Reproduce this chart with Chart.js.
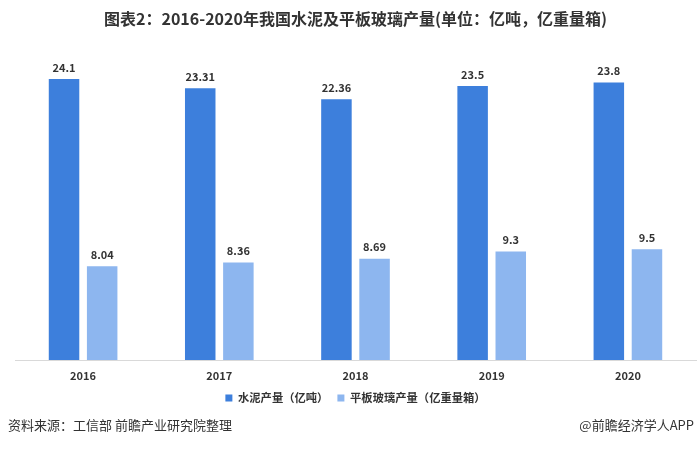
<!DOCTYPE html>
<html>
<head>
<meta charset="utf-8">
<script src="https://cdn.jsdelivr.net/npm/chart.js@4"></script>
<style>
  body { margin: 0; background: #fff; }
  #wrap { width: 700px; height: 450px; position: relative; }
</style>
</head>
<body>
<div id="wrap"><canvas id="chart"></canvas></div>
<script>
const years = ['2016', '2017', '2018', '2019', '2020'];
const cement = [24.1, 23.31, 22.36, 23.5, 23.8];
const glass = [8.04, 8.36, 8.69, 9.3, 9.5];
const seriesNames = ['水泥产量（亿吨）', '平板玻璃产量（亿重量箱）'];

const font = '"Noto Sans CJK SC", "Noto Sans", sans-serif';

// numbers over each bar
const barLabels = {
    id: 'barLabels',
    afterDatasetsDraw(chart) {
        const ctx = chart.ctx;
        ctx.save();
        ctx.font = 'bold 11px ' + font;
        ctx.fillStyle = '#333';
        ctx.textAlign = 'center';
        ctx.textBaseline = 'bottom';
        chart.data.datasets.forEach((ds, i) => {
            chart.getDatasetMeta(i).data.forEach((bar, j) => {
                ctx.fillText(ds.data[j], bar.x, bar.y - 6);
            });
        });
        ctx.restore();
    }
};

// source line and app mark at the bottom
const footer = {
    id: 'footer',
    afterDraw(chart) {
        const ctx = chart.ctx;
        ctx.save();
        ctx.font = '13px ' + font;
        ctx.fillStyle = '#333';
        ctx.textBaseline = 'middle';
        ctx.textAlign = 'left';
        ctx.fillText('资料来源：工信部 前瞻产业研究院整理', 8, 425);
        ctx.textAlign = 'right';
        ctx.fillText('@前瞻经济学人APP', 694, 425);
        ctx.restore();
    }
};

new Chart(document.getElementById('chart'), {
    type: 'bar',
    data: {
        labels: years,
        datasets: [{
            label: seriesNames[0],
            data: cement,
            backgroundColor: '#3D7FDC',
            categoryPercentage: 0.56,
            barPercentage: 0.8
        }, {
            label: seriesNames[1],
            data: glass,
            backgroundColor: '#8DB6EF',
            categoryPercentage: 0.56,
            barPercentage: 0.8
        }]
    },
    options: {
        responsive: true,
        maintainAspectRatio: false,
        animation: false,
        layout: { padding: { left: 15, right: 4, top: 0, bottom: 36.4 } },
        scales: {
            x: {
                grid: { display: false, drawTicks: false },
                border: { display: true, color: '#d9d9d9' },
                ticks: { color: '#333', font: { family: font, size: 11, weight: 'bold' }, padding: 9 },
                afterFit: s => { s.height = 23.3; }
            },
            y: {
                display: false,
                min: 0,
                max: 27
            }
        },
        plugins: {
            title: {
                display: true,
                text: '图表2：2016-2020年我国水泥及平板玻璃产量(单位：亿吨，亿重量箱)',
                color: '#333',
                font: { family: font, size: 16, weight: 'bold' },
                padding: { top: 9, bottom: 17 }
            },
            legend: {
                position: 'bottom',
                labels: {
                    color: '#333',
                    boxWidth: 7,
                    boxHeight: 7,
                    padding: 9,
                    font: { family: font, size: 11.3, weight: 'bold' }
                }
            },
            tooltip: { enabled: false }
        }
    },
    plugins: [barLabels, footer]
});
</script>
</body>
</html>
